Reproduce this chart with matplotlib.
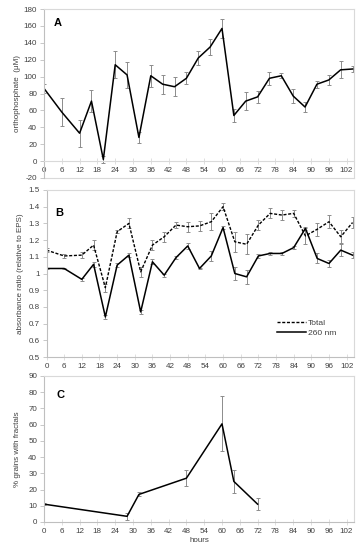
import matplotlib
matplotlib.use("Agg")
import matplotlib.pyplot as plt

plt.rcParams['font.family'] = ['Liberation Sans', 'DejaVu Sans']

hours = [0, 6, 12, 16, 20, 24, 28, 32, 36, 40, 44, 48, 52, 56, 60, 64, 68, 72, 76, 80, 84, 88, 92, 96, 100, 104]

phos = [86, 58, 33, 71, 2, 114, 102, 28, 101, 91, 88, 98, 122, 135, 157, 54, 71, 76, 98, 101, 77, 64, 91, 96, 108, 109]
phos_err = [5, 17, 16, 13, 4, 16, 15, 6, 13, 11, 11, 7, 8, 10, 11, 8, 11, 7, 8, 3, 8, 6, 4, 6, 10, 3]

total = [1.14, 1.105, 1.11, 1.17, 0.915, 1.25, 1.30, 1.01, 1.17, 1.22, 1.29, 1.28, 1.285, 1.31, 1.40, 1.19, 1.175, 1.29, 1.36, 1.35, 1.36, 1.225, 1.265, 1.31, 1.22, 1.305]
total_err = [0.01, 0.01, 0.02, 0.03, 0.025, 0.01, 0.03, 0.03, 0.03, 0.03, 0.02, 0.03, 0.03, 0.05, 0.02, 0.06, 0.06, 0.03, 0.03, 0.03, 0.02, 0.05, 0.04, 0.04, 0.04, 0.035]

nm260 = [1.03, 1.03, 0.965, 1.055, 0.74, 1.05, 1.11, 0.77, 1.07, 0.99, 1.095, 1.165, 1.03, 1.105, 1.275, 1.00, 0.98, 1.105, 1.12, 1.12, 1.155, 1.27, 1.09, 1.06, 1.14, 1.11]
nm260_err = [0.005, 0.005, 0.01, 0.015, 0.01, 0.01, 0.01, 0.01, 0.015, 0.01, 0.01, 0.02, 0.005, 0.03, 0.01, 0.04, 0.04, 0.01, 0.01, 0.01, 0.01, 0.01, 0.03, 0.02, 0.035, 0.02]

frac_hours = [0, 28, 32, 48, 60, 64, 72]
frac = [11, 3.5, 17, 27, 60.5, 25, 11]
frac_err = [0.5, 2, 1.2, 5, 17, 7, 3.5]

xticks = list(range(0, 103, 6))

W, H = 361, 550
fig = plt.figure(figsize=(W / 100, H / 100), dpi=100)

def ax_px(left, top, right, bottom):
    return fig.add_axes([left / W, 1 - bottom / H, (right - left) / W, (bottom - top) / H])

TXT = '#404040'
BOX = '#d9d9d9'
AXC = '#bfbfbf'
ERR = '#8c8c8c'
FS = 5.8

def style(ax, ylim, yticks, ylabels):
    ax.set_xlim(0, 104.5)
    ax.set_ylim(*ylim)
    ax.set_xticks(xticks)
    ax.set_xticklabels([str(t) for t in xticks])
    ax.set_yticks(yticks)
    ax.set_yticklabels(ylabels)
    for s in ['top', 'right']:
        ax.spines[s].set_color(BOX)
        ax.spines[s].set_linewidth(0.8)
    ax.spines['left'].set_color(AXC)
    ax.spines['left'].set_linewidth(0.8)
    ax.spines['bottom'].set_color(BOX)
    ax.spines['bottom'].set_linewidth(0.8)
    ax.tick_params(axis='y', direction='out', length=3, width=0.6, color=AXC,
                   labelsize=FS, labelcolor=TXT, pad=2)
    ax.tick_params(axis='x', direction='inout', length=4, width=0.6, color=BOX,
                   labelsize=FS, labelcolor=TXT, pad=2)

ekw = dict(ecolor=ERR, elinewidth=0.7, capsize=1.6, capthick=0.7)

# Panel A
axA = ax_px(44, 9, 354, 178)
axA.errorbar(hours, phos, yerr=phos_err, color='black', lw=1.1, **ekw)
style(axA, (-20, 180), list(range(-20, 181, 20)), [str(v) for v in range(-20, 181, 20)])
axA.spines['bottom'].set_position(('data', 0))
axA.axhline(-20, color=BOX, lw=0.8, clip_on=False)
axA.set_ylabel('orthophosphate  (μM)', fontsize=FS, color=TXT, labelpad=2)
axA.text(0.03, 0.92, 'A', transform=axA.transAxes, fontsize=8, fontweight='bold', va='center')

# Panel B
axB = ax_px(46.5, 190, 354, 357)
axB.errorbar(hours, total, yerr=total_err, color='black', lw=1.0, ls=(0, (2.2, 1.2)), label='Total', **ekw)
axB.errorbar(hours, nm260, yerr=nm260_err, color='black', lw=1.1, label='260 nm', **ekw)
yb = [0.5, 0.6, 0.7, 0.8, 0.9, 1.0, 1.1, 1.2, 1.3, 1.4, 1.5]
style(axB, (0.5, 1.5), yb, ['0.5', '0.6', '0.7', '0.8', '0.9', '1', '1.1', '1.2', '1.3', '1.4', '1.5'])
axB.spines['bottom'].set_color(AXC)
axB.set_ylabel('absorbance ratio (relative to EPS)', fontsize=FS, color=TXT, labelpad=3)
axB.text(0.03, 0.86, 'B', transform=axB.transAxes, fontsize=8, fontweight='bold', va='center')
h, l = axB.get_legend_handles_labels()
h = [hh[0] for hh in h]
axB.legend(h, l, loc='lower right', bbox_to_anchor=(0.955, 0.095), frameon=False, fontsize=FS + 0.3,
           handlelength=3.5, handletextpad=0.15, labelspacing=0.25, borderpad=0, labelcolor=TXT)

# Panel C
axC = ax_px(44, 376, 354, 522)
axC.errorbar(frac_hours, frac, yerr=frac_err, color='black', lw=1.1, **ekw)
style(axC, (0, 90), list(range(0, 91, 10)), [str(v) for v in range(0, 91, 10)])
axC.spines['bottom'].set_color(AXC)
axC.set_ylabel('% grains with fractals', fontsize=FS, color=TXT, labelpad=5)
axC.set_xlabel('hours', fontsize=FS, color=TXT, labelpad=2)
axC.text(0.04, 0.87, 'C', transform=axC.transAxes, fontsize=8, fontweight='bold', va='center')

fig.savefig('out.png', dpi=100)
